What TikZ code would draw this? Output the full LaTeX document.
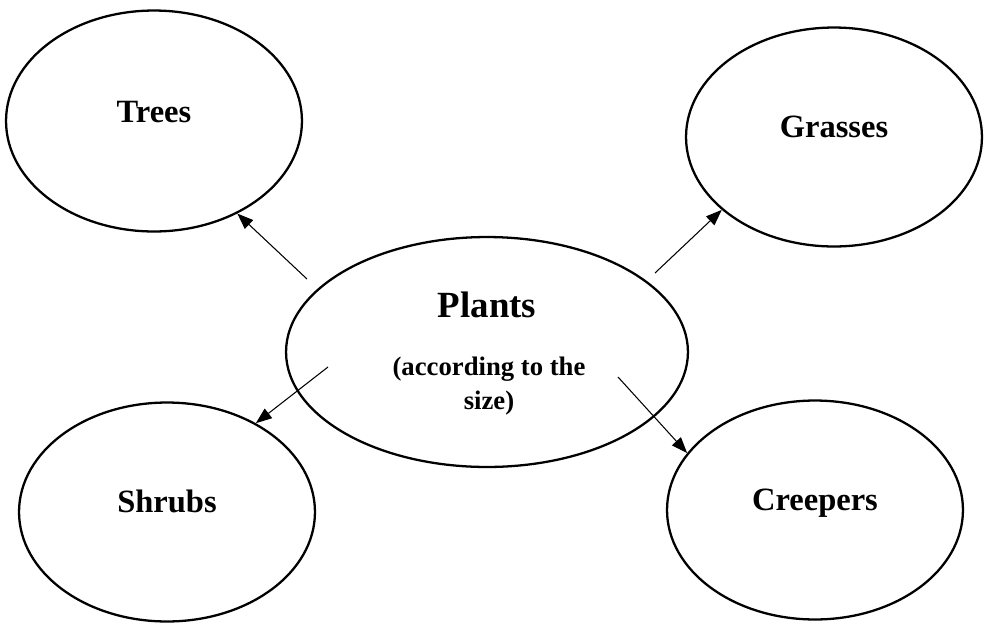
\documentclass[tikz,border=0pt]{standalone}
\usepackage{fontspec}
\setmainfont{Liberation Serif}
\usepackage{tikz}
\usetikzlibrary{arrows.meta}
\usetikzlibrary{shapes.geometric}

\tikzset{
  bubble/.style={draw, ellipse, line width=1.3pt, minimum width=5.92cm, minimum height=4.38cm},
  word/.style={font=\fontsize{18.5}{22}\selectfont\bfseries, anchor=base, inner sep=0pt},
  branch/.style={line width=0.6pt, -{Triangle[length=0.32cm,width=0.24cm]}}
}

\begin{document}
\begin{tikzpicture}[x=0.02cm,y=-0.02cm]
\useasboundingbox (0,0) rectangle (985,630);

\node[bubble, minimum height=4.42cm] (trees) at (154,121) {};
\node[bubble] (grasses) at (834,137) {};
\node[bubble] (shrubs) at (167,512) {};
\node[bubble] (creepers) at (815,510) {};
\node[bubble, minimum width=8.04cm, minimum height=4.6cm] (plants) at (487,352) {};

\node[word] (treestxt) at (154,122) {Trees};
\node[word] (grassestxt) at (grasses.center) {Grasses};
\node[word] (shrubstxt) at (shrubs.center) {Shrubs};
\node[word] (creeperstxt) at (creepers.center) {Creepers};

\node[word, font=\fontsize{21}{25}\selectfont\bfseries] (plantstxt) at (487,317) {Plants};
\node[word, font=\fontsize{15.2}{19.3}\selectfont\bfseries, align=center] (sizetxt) at (489,409) {(according to the\\size)};

% arrows out of the middle
\coordinate (s1) at (307,279);
\coordinate (s2) at (655,273);
\coordinate (s3) at (328,367);
\coordinate (s4) at (618,377);

\draw[branch] (s1) -- (trees.312);
\draw[branch] (s2) -- (grasses.213);
\draw[branch] (s3) -- (shrubs.45);
\draw[branch] (s4) -- (creepers.156);

\end{tikzpicture}
\end{document}
